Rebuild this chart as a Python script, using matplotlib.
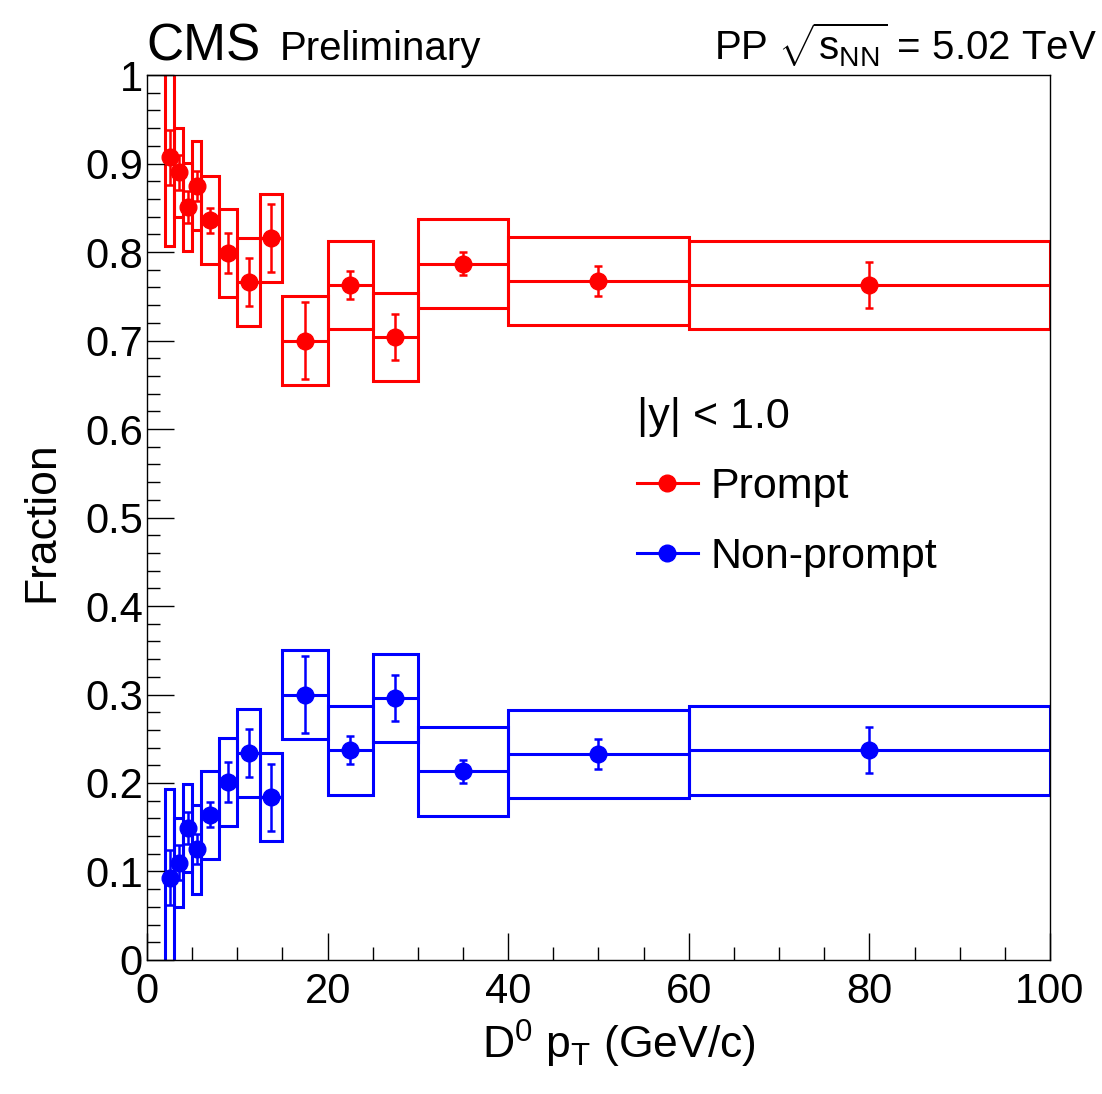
import numpy as np
import matplotlib
matplotlib.use("Agg")
import matplotlib.pyplot as plt
from matplotlib.patches import Rectangle
from matplotlib.lines import Line2D
from matplotlib.ticker import MultipleLocator, FuncFormatter

plt.rcParams['font.family'] = ['Liberation Sans', 'DejaVu Sans']
plt.rcParams['mathtext.fontset'] = 'custom'
plt.rcParams['mathtext.rm'] = 'Liberation Sans'
plt.rcParams['mathtext.it'] = 'Liberation Sans:italic'

# pT bins (GeV/c)
bin_lo = [2, 3, 4, 5, 6, 8, 10, 12.5, 15, 20, 25, 30, 40, 60]
bin_hi = [3, 4, 5, 6, 8, 10, 12.5, 15, 20, 25, 30, 40, 60, 100]

# prompt / non-prompt fractions
prompt = [0.907, 0.890, 0.851, 0.875, 0.836, 0.799, 0.766, 0.816,
          0.700, 0.763, 0.704, 0.787, 0.767, 0.763]
nonprompt = [0.093, 0.110, 0.149, 0.125, 0.164, 0.201, 0.234, 0.184,
             0.300, 0.237, 0.296, 0.213, 0.233, 0.237]
stat_err = [0.031, 0.020, 0.018, 0.017, 0.014, 0.023, 0.027, 0.038,
            0.043, 0.016, 0.026, 0.013, 0.017, 0.026]
syst_err = [0.10, 0.05, 0.05, 0.05, 0.05, 0.05, 0.05, 0.05,
            0.05, 0.05, 0.05, 0.05, 0.05, 0.05]

lo = np.array(bin_lo)
hi = np.array(bin_hi)
xc = (lo + hi) / 2

fig = plt.figure(figsize=(11.02, 10.94), dpi=100)
ax = fig.add_axes([0.1334, 0.1225, 0.8194, 0.8089])

def draw(vals, col):
    vals = np.array(vals)
    for i in range(len(vals)):
        ax.add_patch(Rectangle((lo[i], vals[i] - syst_err[i]), hi[i] - lo[i],
                               2 * syst_err[i], fill=False, edgecolor=col, lw=2.2))
    ax.hlines(vals, lo, hi, color=col, lw=2.2)
    ax.errorbar(xc, vals, yerr=stat_err, fmt='o', color=col, ms=12,
                elinewidth=1.8, capsize=3, capthick=1.8, zorder=5)

draw(prompt, 'red')
draw(nonprompt, 'blue')

ax.set_xlim(0, 100)
ax.set_ylim(0, 1)
ax.xaxis.set_major_locator(MultipleLocator(20))
ax.xaxis.set_minor_locator(MultipleLocator(5))
ax.yaxis.set_major_locator(MultipleLocator(0.1))
ax.yaxis.set_minor_locator(MultipleLocator(0.02))
ax.yaxis.set_major_formatter(FuncFormatter(lambda v, p: '%g' % round(v, 2)))
ax.tick_params(which='both', direction='in', top=False, right=False, width=1.0, labelsize=30)
ax.tick_params(axis='y', which='major', length=19.5, pad=3)
ax.tick_params(axis='y', which='minor', length=9.5)
ax.tick_params(axis='x', which='major', length=19.5, pad=9)
ax.tick_params(axis='x', which='minor', length=9.5)
for s in ax.spines.values():
    s.set_linewidth(1.0)

ax.set_xlabel(r'D$^{0}$ p$_{\mathrm{T}}$ (GeV/c)', fontsize=32)
ax.xaxis.set_label_coords(0.522, -0.066)
ax.set_ylabel('Fraction', fontsize=32)
ax.yaxis.set_label_coords(-0.094, 0.495)

handles = [Line2D([], [], color='red', lw=2.2, marker='o', ms=12),
           Line2D([], [], color='blue', lw=2.2, marker='o', ms=12)]
leg = ax.legend(handles, ['Prompt', 'Non-prompt'], title='|y| < 1.0',
                loc='upper left', bbox_to_anchor=(0.50, 0.68), frameon=False,
                fontsize=31, title_fontsize=31, handlelength=1.4,
                handletextpad=0.3, labelspacing=0.7, alignment='left')

fig.text(0.133, 0.945, 'CMS', fontsize=37, ha='left', va='baseline')
fig.text(0.254, 0.945, 'Preliminary', fontsize=29, ha='left', va='baseline')
fig.text(0.995, 0.945, r'PP $\sqrt{\mathrm{s}_{\mathrm{NN}}}$ = 5.02 TeV',
         fontsize=29, ha='right', va='baseline')

fig.savefig('out.png', dpi=100)
